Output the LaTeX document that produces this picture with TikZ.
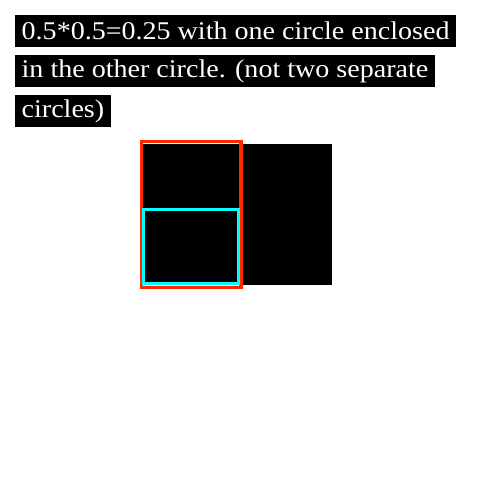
\documentclass[tikz,border=0pt]{standalone}
\usepackage{fontspec}
\setmainfont{Liberation Serif}[FakeStretch=1.1]
\begin{document}
\begin{tikzpicture}[x=1pt,y=-1pt,
  lbl/.style={fill=black,text=white,anchor=north west,inner xsep=6.5pt,inner ysep=0pt,minimum height=32pt,font=\fontsize{25.5}{25.5}\selectfont},
  redbox/.style={draw={rgb,255:red,255;green,40;blue,0},line width=3.3pt},
  cyanbox/.style={draw={rgb,255:red,0;green,255;blue,255},line width=3.3pt}]
\useasboundingbox (0,0) rectangle (495,495);
\node[lbl] (l1) at (15,15) {0.5*0.5=0.25 with one circle enclosed};
\node[lbl] (l2) at (15,55) {in the other circle. (not two separate};
\node[lbl] (l3) at (15,95) {circles)};
\fill[black] (140,144) rectangle (332,285);
\draw[redbox] (141.7,141.7) rectangle (241,287.3);
\draw[cyanbox] (143.5,209.5) rectangle (238.5,283.5);
\end{tikzpicture}
\end{document}
